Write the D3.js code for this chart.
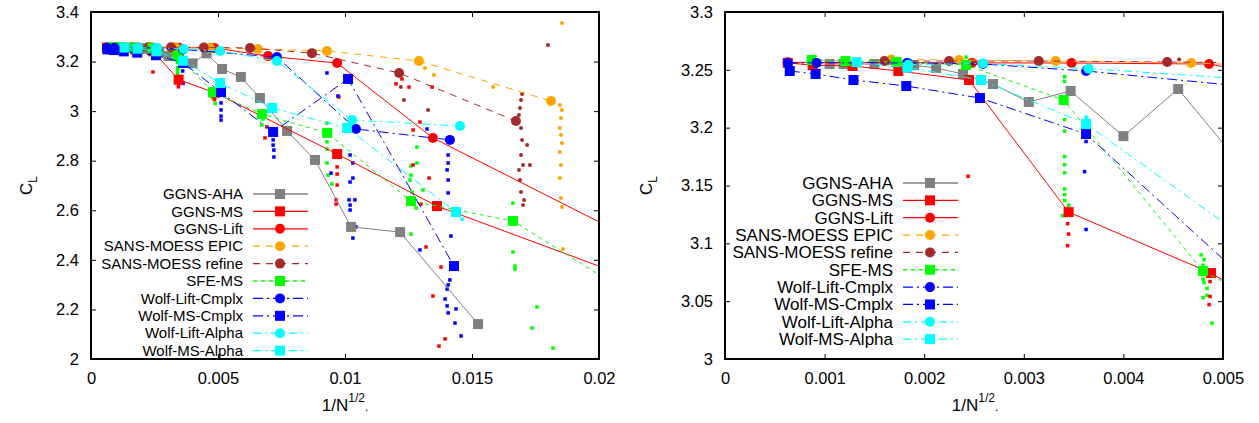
<!DOCTYPE html>
<html>
<head>
<meta charset="utf-8">
<script src="https://cdn.jsdelivr.net/npm/d3@7"></script>
<style>
  body { margin: 0; background: #fff; }
  text { font-family: "Liberation Sans", Arial, sans-serif; fill: #000; }
</style>
</head>
<body>
<svg id="chart" width="1259" height="423"></svg>
<script>
// ---- data (x = 1/N^(1/2), y = C_L) ----
var seriesNames = ["GGNS-AHA", "GGNS-MS", "GGNS-Lift", "SANS-MOESS EPIC", "SANS-MOESS refine",
  "SFE-MS", "Wolf-Lift-Cmplx", "Wolf-MS-Cmplx", "Wolf-Lift-Alpha", "Wolf-MS-Alpha"];

var ggnsAha = [[0.00105,3.255],[0.00119,3.255],[0.0015,3.255],[0.0019,3.254],[0.00212,3.2516],[0.00239,3.2464],
  [0.00269,3.2377],[0.00305,3.2222],[0.00347,3.2317],[0.0040,3.1927],[0.00455,3.2334],[0.00516,3.170],[0.0059,3.138],
  [0.00665,3.053],[0.00772,2.920],[0.00882,2.803],[0.01024,2.533],[0.01217,2.512],[0.01524,2.141]];
var ggnsMs = [[0.00063,3.256],[0.00088,3.254],[0.00128,3.2533],[0.00174,3.249],[0.00245,3.2412],[0.00345,3.127],
  [0.00488,3.0743],[0.00969,2.827],[0.01362,2.617],[0.025,2.185]];
var ggnsLift = [[0.00063,3.2565],[0.00248,3.256],[0.00348,3.2559],[0.00486,3.255],[0.00697,3.222],[0.00969,3.194],
  [0.01346,2.892],[0.025,2.294]];
var sansEpic = [[0.00167,3.259],[0.00235,3.2585],[0.00332,3.2576],[0.00468,3.2559],[0.00657,3.251],[0.00929,3.243],
  [0.01291,3.202],[0.01811,3.041]];
var sansRefine = [[0.0016,3.2576],[0.00225,3.2576],[0.00315,3.2576],[0.00444,3.2568],[0.00626,3.255],[0.0087,3.234],
  [0.01213,3.154],[0.01673,2.96]];
var sfeMs = [[0.00087,3.2585],[0.00121,3.2576],[0.00172,3.2568],[0.00242,3.2542],[0.0034,3.2239],[0.0048,3.076],
  [0.00673,2.988],[0.0093,2.912],[0.0126,2.637],[0.01661,2.557],[0.025,2.02]];
var wolfLiftCmplx = [[0.00063,3.256],[0.00092,3.256],[0.00183,3.256],[0.00259,3.255],[0.003625,3.249],[0.00732,3.218],
  [0.01043,2.928],[0.01413,2.884]];
var wolfMsCmplx = [[0.00065,3.249],[0.00091,3.2464],[0.00129,3.2412],[0.00182,3.236],[0.00256,3.2256],[0.003625,3.1945],
  [0.00512,3.077],[0.00717,2.916],[0.01012,3.130],[0.01429,2.375]];
var wolfLiftAlpha = [[0.00184,3.2545],[0.00259,3.2555],[0.00365,3.251],[0.00508,3.243],[0.00732,3.202],[0.01028,2.964],
  [0.01453,2.940]];
var wolfMsAlpha = [[0.00132,3.2567],[0.00183,3.252],[0.00257,3.2412],[0.003625,3.2032],[0.00508,3.1135],[0.00713,3.0127],
  [0.01008,2.932],[0.01437,2.593]];

// individual runs (small dots)
var redDots = [[0.00244,3.158],[0.00344,3.117],[0.00345,3.108],[0.00344,3.098],[0.00487,3.067],[0.00487,3.054],
  [0.00486,3.047],[0.00693,2.936],[0.00685,2.892],[0.00969,2.775],[0.00969,2.746],[0.00969,2.702],[0.00965,2.642],
  [0.00965,2.625],[0.01268,2.924],[0.01295,2.956],[0.01268,2.783],[0.01224,3.130],[0.01201,3.110],[0.01252,3.097],
  [0.01343,3.097],[0.01331,2.730],[0.01299,2.625],[0.01319,2.452],[0.01378,2.371],[0.01346,2.254],[0.01394,2.081],
  [0.0137,2.052],[0.00976,3.057]];
var greenDots = [[0.00242,3.261],[0.00242,3.250],[0.00242,3.247],[0.00341,3.244],[0.00341,3.240],[0.00341,3.207],
  [0.00341,3.197],[0.00341,3.175],[0.00341,3.168],[0.00341,3.161],[0.00341,3.147],[0.00341,3.142],[0.00341,3.137],
  [0.00339,3.124],[0.00345,3.133],[0.00478,3.090],[0.00481,3.086],[0.0048,3.081],[0.0048,3.073],[0.0048,3.069],
  [0.00481,3.066],[0.00484,3.061],[0.00484,3.055],[0.0048,3.053],[0.00489,3.031],[0.00673,2.944],[0.00677,2.968],
  [0.00929,2.952],[0.00929,2.876],[0.00929,2.847],[0.00929,2.791],[0.00933,2.742],[0.00949,2.706],[0.01283,2.855],
  [0.01283,2.791],[0.0126,2.779],[0.01256,2.722],[0.01264,2.674],[0.0128,2.609],[0.01307,2.682],[0.0126,2.742],
  [0.0126,2.504],[0.01661,2.629],[0.01661,2.432],[0.01669,2.375],[0.01669,2.363],[0.01756,2.210],[0.01736,2.125],
  [0.01819,2.044]];
var blueDots = [[0.003625,3.188],[0.00361,3.162],[0.003625,3.112],[0.00929,3.154],[0.00972,3.061],[0.00512,3.033],
  [0.00512,3.005],[0.00512,2.980],[0.00512,2.964],[0.00717,2.884],[0.00717,2.863],[0.0072,2.843],[0.0072,2.815],
  [0.0102,2.823],[0.01031,2.791],[0.00945,2.750],[0.0102,2.714],[0.01031,2.730],[0.01016,2.642],[0.01039,2.642],
  [0.0102,2.621],[0.0102,2.601],[0.01043,2.533],[0.01031,2.488],[0.01413,2.319],[0.01406,2.299],[0.01402,2.282],
  [0.01394,2.242],[0.01402,2.214],[0.01406,2.186],[0.01437,2.202],[0.01433,2.145],[0.01457,2.093],[0.01417,2.496],
  [0.01295,2.440],[0.01406,2.823],[0.01406,2.791],[0.01402,2.763],[0.01406,2.722],[0.01406,2.670],[0.01323,2.928]];
var cyanDots = [[0.003625,3.209],[0.01461,2.564]];
var brownDots = [[0.00456,3.259],[0.01697,3.069],[0.01693,3.045],[0.01689,3.013],[0.01685,2.984],[0.01693,2.932],
  [0.01717,2.863],[0.01697,2.884],[0.01693,2.823],[0.01728,2.783],[0.01701,2.783],[0.01685,2.763],[0.01689,2.722],
  [0.01693,2.674],[0.01705,2.642],[0.01701,2.621],[0.01799,3.267],[0.01327,3.005],[0.0122,3.097],[0.01232,3.045]];
var orangeDots = [[0.01854,3.356],[0.01846,3.025],[0.01854,3.005],[0.0185,2.972],[0.01846,2.932],[0.0185,2.904],
  [0.01854,2.871],[0.01846,2.835],[0.0185,2.783],[0.01846,2.730],[0.0185,2.650],[0.01854,2.613],[0.01858,2.444],
  [0.01315,3.174],[0.0135,3.146],[0.01583,3.097]];

// tick values
var leftXTicks = [0, 0.005, 0.01, 0.015, 0.02];
var leftYTicks = [2, 2.2, 2.4, 2.6, 2.8, 3, 3.2, 3.4];
var rightXTicks = [0, 0.001, 0.002, 0.003, 0.004, 0.005];
var rightYTicks = [3, 3.05, 3.1, 3.15, 3.2, 3.25, 3.3];

// ---- styles ----
var seriesData = [ggnsAha, ggnsMs, ggnsLift, sansEpic, sansRefine, sfeMs, wolfLiftCmplx, wolfMsCmplx, wolfLiftAlpha, wolfMsAlpha];
var colors = ["#808080", "#ff0000", "#ff0000", "#ffa500", "#a52a2a", "#00ff00", "#0000ff", "#0000ff", "#00ffff", "#00ffff"];
var dashes = [null, null, null, "7,6", "7,6", "4,4", "10,4,2,4", "10,4,2,4", "8,4,2,4", "8,4,2,4"];
var shapes = ["sq", "sq", "ci", "ci", "ci", "sq", "ci", "sq", "ci", "sq"];
var dotSets = [
  {d: brownDots, c: "#a52a2a", s: "ci"}, {d: orangeDots, c: "#ffa500", s: "ci"},
  {d: greenDots, c: "#00ff00", s: "sq"}, {d: redDots, c: "#ff0000", s: "sq"},
  {d: blueDots, c: "#0000ff", s: "sq"}, {d: cyanDots, c: "#00ffff", s: "sq"}
];

var panels = [
  {id: "L", x0: 91, x1: 599, y0: 12, y1: 359, xDom: [0, 0.02], yDom: [2, 3.4], xt: leftXTicks, yt: leftYTicks,
   legX: 243, legY: 194, legDy: 17.4, legFont: 15, ylabX: 32, xlabX: 345},
  {id: "R", x0: 725, x1: 1223, y0: 12, y1: 359, xDom: [0, 0.005], yDom: [3, 3.3], xt: rightXTicks, yt: rightYTicks,
   legX: 893, legY: 183, legDy: 17.35, legFont: 17, ylabX: 652, xlabX: 975}
];

var svg = d3.select("#chart");
var fmt = function(v) { return String(+v.toFixed(4)); };

function marker(g, shape, color, cx, cy, size) {
  if (shape == "sq") {
    g.append("rect").attr("x", cx - size / 2).attr("y", cy - size / 2)
      .attr("width", size).attr("height", size).attr("fill", color);
  } else {
    g.append("circle").attr("cx", cx).attr("cy", cy).attr("r", size / 2).attr("fill", color);
  }
}

panels.forEach(function(p) {
  var x = d3.scaleLinear().domain(p.xDom).range([p.x0, p.x1]);
  var y = d3.scaleLinear().domain(p.yDom).range([p.y1, p.y0]);

  svg.append("clipPath").attr("id", "clip" + p.id)
    .append("rect").attr("x", p.x0).attr("y", p.y0).attr("width", p.x1 - p.x0).attr("height", p.y1 - p.y0);

  var plot = svg.append("g").attr("clip-path", "url(#clip" + p.id + ")");

  // small dots first
  dotSets.forEach(function(ds) {
    ds.d.forEach(function(pt) {
      marker(plot, ds.s, ds.c, x(pt[0]), y(pt[1]), ds.s == "sq" ? 3.5 : 4);
    });
  });

  var line = d3.line().x(function(d) { return x(d[0]); }).y(function(d) { return y(d[1]); });

  seriesData.forEach(function(data, i) {
    plot.append("path").datum(data).attr("d", line)
      .attr("fill", "none").attr("stroke", colors[i]).attr("stroke-width", 1)
      .attr("stroke-dasharray", dashes[i]);
    data.forEach(function(pt) {
      marker(plot, shapes[i], colors[i], x(pt[0]), y(pt[1]), 10);
    });
  });

  // axes with inward ticks on all four sides
  var gb = svg.append("g").attr("transform", "translate(0," + p.y1 + ")")
    .call(d3.axisBottom(x).tickValues(p.xt).tickSizeInner(-5).tickSizeOuter(0).tickPadding(13).tickFormat(fmt));
  var gt = svg.append("g").attr("transform", "translate(0," + p.y0 + ")")
    .call(d3.axisTop(x).tickValues(p.xt).tickSizeInner(-5).tickSizeOuter(0).tickFormat(""));
  var gl = svg.append("g").attr("transform", "translate(" + p.x0 + ",0)")
    .call(d3.axisLeft(y).tickValues(p.yt).tickSizeInner(-5).tickSizeOuter(0).tickPadding(12).tickFormat(fmt));
  var gr = svg.append("g").attr("transform", "translate(" + p.x1 + ",0)")
    .call(d3.axisRight(y).tickValues(p.yt).tickSizeInner(-5).tickSizeOuter(0).tickFormat(""));
  [gb, gt, gl, gr].forEach(function(g) {
    g.select(".domain").remove();
    g.selectAll("line").attr("stroke", "#000");
    g.selectAll("text").style("font-size", "16.5px").attr("fill", "#000")
      .style("font-family", "'Liberation Sans', Arial, sans-serif");
  });

  // frame
  svg.append("rect").attr("x", p.x0).attr("y", p.y0).attr("width", p.x1 - p.x0).attr("height", p.y1 - p.y0)
    .attr("fill", "none").attr("stroke", "#000").attr("stroke-width", 2);

  // axis titles
  var yl = svg.append("text").attr("transform", "translate(" + p.ylabX + "," + ((p.y0 + p.y1) / 2) + ") rotate(-90)")
    .attr("text-anchor", "middle").style("font-size", "17px");
  yl.append("tspan").text("C");
  yl.append("tspan").attr("dy", 5).style("font-size", "12px").text("L");

  var xl = svg.append("text").attr("x", p.xlabX).attr("y", 411).attr("text-anchor", "middle").style("font-size", "17px");
  xl.append("tspan").text("1/N");
  xl.append("tspan").attr("dy", -9).style("font-size", "12px").text("1/2");
  xl.append("tspan").attr("dy", 9).style("font-size", "12px").text(".");

  // legend
  var leg = svg.append("g");
  seriesNames.forEach(function(name, i) {
    var ly = p.legY + i * p.legDy;
    leg.append("text").attr("x", p.legX).attr("y", ly).attr("dy", "0.35em").attr("text-anchor", "end")
      .style("font-size", p.legFont + "px").text(name);
    leg.append("line").attr("x1", p.legX + 10).attr("x2", p.legX + 65).attr("y1", ly).attr("y2", ly)
      .attr("stroke", colors[i]).attr("stroke-width", 1.3).attr("stroke-dasharray", dashes[i]);
    marker(leg, shapes[i], colors[i], p.legX + 37, ly, 10);
  });
});
</script>
</body>
</html>
